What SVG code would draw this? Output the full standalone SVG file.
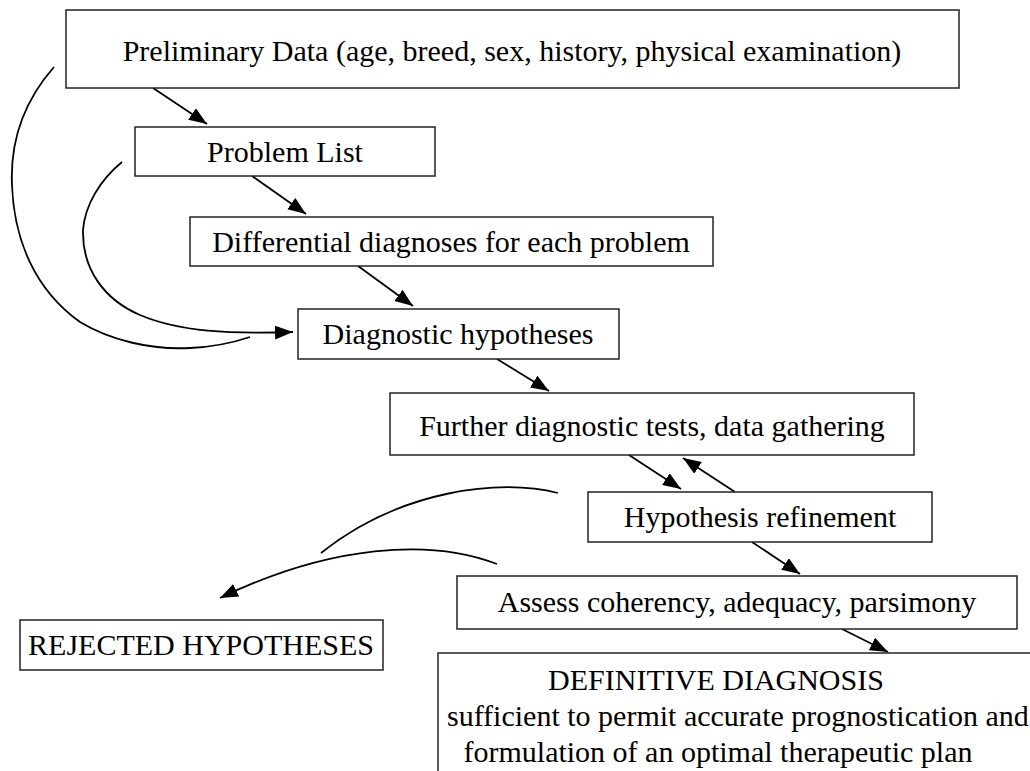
<svg xmlns="http://www.w3.org/2000/svg" width="1030" height="771" viewBox="0 0 1030 771">
<style>
.box{fill:#fff;stroke:#222;stroke-width:1.5}
.t{font-family:"Liberation Serif","Times New Roman",serif;font-size:30px;fill:#000;text-anchor:middle}
.c{fill:none;stroke:#000;stroke-width:1.8}
</style>
<defs>
<marker id="ah" markerUnits="userSpaceOnUse" markerWidth="19" markerHeight="15" refX="18" refY="7" orient="auto">
<path d="M0,0 L18,7 L0,14 z" fill="#000"/>
</marker>
</defs>
<rect width="1030" height="771" fill="#fff"/>
<g id="connectors">
<line class="c" x1="153" y1="88" x2="207" y2="124" marker-end="url(#ah)"/>
<line class="c" x1="252" y1="176" x2="306" y2="214" marker-end="url(#ah)"/>
<line class="c" x1="358" y1="266" x2="413" y2="306" marker-end="url(#ah)"/>
<line class="c" x1="497" y1="359" x2="549" y2="391" marker-end="url(#ah)"/>
<line class="c" x1="629" y1="455" x2="681" y2="489" marker-end="url(#ah)"/>
<line class="c" x1="735" y1="492" x2="683" y2="458" marker-end="url(#ah)"/>
<line class="c" x1="752" y1="542" x2="800" y2="574" marker-end="url(#ah)"/>
<line class="c" x1="842" y1="629" x2="888" y2="652" marker-end="url(#ah)"/>
<path class="c" d="M54,67 C25,100 10,140 12,185 C14,240 35,290 80,322 C110,340 150,350 190,348 C215,347 235,342 250,337"/>
<path class="c" d="M122,162 C100,180 85,205 83,230 C82,270 105,300 140,315 C180,332 230,334 293,332" marker-end="url(#ah)"/>
<path class="c" d="M558,493 C500,478 400,490 321,553"/>
<path class="c" d="M497,564 C430,538 330,545 220,598" marker-end="url(#ah)"/>
</g>
<g id="n1"><rect class="box" x="66" y="10" width="893" height="78"/><text class="t" x="512" y="61">Preliminary Data (age, breed, sex, history, physical examination)</text></g>
<g id="n2"><rect class="box" x="135" y="127" width="300" height="49"/><text class="t" x="285" y="162">Problem List</text></g>
<g id="n3"><rect class="box" x="190" y="217" width="523" height="49"/><text class="t" x="451" y="252">Differential diagnoses for each problem</text></g>
<g id="n4"><rect class="box" x="298" y="309" width="321" height="50"/><text class="t" x="458" y="344">Diagnostic hypotheses</text></g>
<g id="n5"><rect class="box" x="390" y="393" width="524" height="62"/><text class="t" x="652" y="436">Further diagnostic tests, data gathering</text></g>
<g id="n6"><rect class="box" x="588" y="492" width="344" height="50"/><text class="t" x="760" y="527">Hypothesis refinement</text></g>
<g id="n7"><rect class="box" x="457" y="576" width="560" height="53"/><text class="t" x="737" y="612">Assess coherency, adequacy, parsimony</text></g>
<g id="n8"><rect class="box" x="438" y="653" width="620" height="140"/>
<text class="t" x="716" y="690">DEFINITIVE DIAGNOSIS</text>
<text class="t" x="447" y="726" style="text-anchor:start">sufficient to permit accurate prognostication and</text>
<text class="t" x="718" y="762">formulation of an optimal therapeutic plan</text></g>
<g id="n9"><rect class="box" x="20" y="620" width="363" height="50"/><text class="t" x="201" y="655">REJECTED HYPOTHESES</text></g>
</svg>
